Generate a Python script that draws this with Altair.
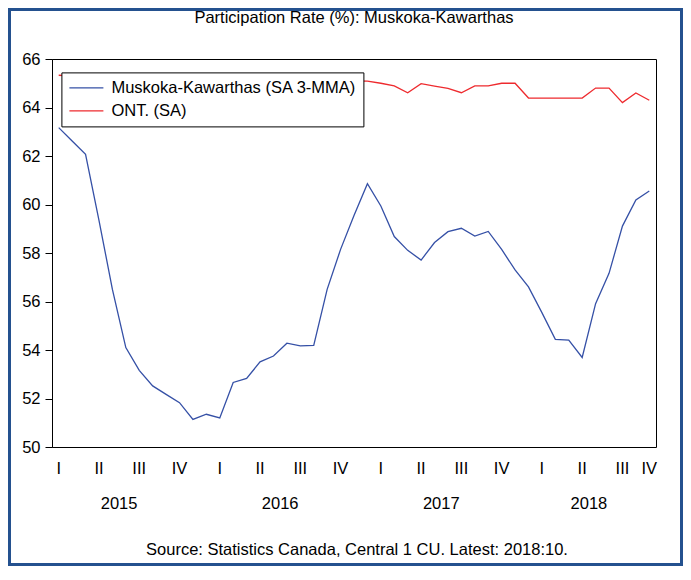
import altair as alt
import pandas as pd

# ---------------- data ----------------
months = [p.strftime("%Y-%m") for p in pd.period_range("2015-02", "2018-10", freq="M")]

muskoka = [63.17, 62.62, 62.07, 59.35, 56.50, 54.10, 53.16, 52.52, 52.17, 51.83,
           51.14, 51.35, 51.20, 52.66, 52.83, 53.51, 53.75, 54.28, 54.17, 54.19,
           56.50, 58.15, 59.55, 60.86, 59.94, 58.68, 58.11, 57.71, 58.43, 58.88,
           59.02, 58.70, 58.89, 58.15, 57.30, 56.60, 55.54, 54.44, 54.41, 53.69,
           55.91, 57.16, 59.11, 60.19, 60.56]

ontario = [65.33, 65.30, 65.20, 65.30, 65.10, 65.20, 65.30, 65.20, 65.10, 65.20,
           65.10, 65.00, 65.10, 65.00, 65.00, 65.10, 65.20, 65.10, 65.00, 65.00,
           64.90, 65.00, 65.10, 65.09, 65.00, 64.89, 64.61, 64.98, 64.88, 64.79,
           64.61, 64.89, 64.89, 65.00, 65.00, 64.39, 64.39, 64.39, 64.39, 64.39,
           64.80, 64.80, 64.20, 64.60, 64.30]

series_names = ["Muskoka-Kawarthas (SA 3-MMA)", "ONT. (SA)"]
quarter_names = ["I", "II", "III", "IV"]
years = [2015, 2016, 2017, 2018]

title_text = "Participation Rate (%): Muskoka-Kawarthas"
source_text = "Source: Statistics Canada, Central 1 CU. Latest: 2018:10."

# ---------------- tables ----------------
n = len(months)
rows = []
for name, vals in zip(series_names, [muskoka, ontario]):
    for k, (m, v) in enumerate(zip(months, vals)):
        rows.append({"series": name, "month": m, "pos": k + 0.5, "value": v})
df = pd.DataFrame(rows)

# month boundaries: 0 = start of first month (Feb 2015); Jan 2015 starts at -1
first_year, first_month = 2015, 2
def boundary(y, m):
    return (y - first_year) * 12 + (m - first_month)

qrows = []
for y in years:
    for qi, q in enumerate(quarter_names):
        s = boundary(y, 1 + 3 * qi)
        e = s + 3
        if e <= 0 or s >= n:
            continue
        qrows.append({"label": q, "pos": (max(s, -1) + min(e, n)) / 2})
qdf = pd.DataFrame(qrows)

yrows = []
for y in years:
    s = boundary(y, 1)
    e = s + 12
    yrows.append({"label": str(y), "pos": (s + min(e, n)) / 2})
ydf = pd.DataFrame(yrows)

# ---------------- style ----------------
FONT = "Liberation Sans"
FS = 16.5
BLUE = "#3550A6"
RED = "#EE2A2E"
FRAME = "#24518F"
W, H = 604, 388
PAD = {"left": 44, "top": 51, "right": 27, "bottom": 119}

x_scale = alt.Scale(domain=[0, n], nice=False, zero=False)
y_scale = alt.Scale(domain=[50, 66], nice=False, zero=False)

frame = alt.Chart(pd.DataFrame({"a": [0]})).mark_rect(
    fillOpacity=0, stroke=FRAME, strokeWidth=3
).encode(
    x=alt.value(-PAD["left"] + 1.5), x2=alt.value(W + PAD["right"] - 1.5),
    y=alt.value(-PAD["top"] + 1.5), y2=alt.value(H + PAD["bottom"] - 1.5),
)

lines = alt.Chart(df).mark_line(strokeWidth=1.3).encode(
    x=alt.X("pos:Q", scale=x_scale, axis=alt.Axis(
        values=list(range(n + 1)), labels=False, title=None, grid=False,
        tickSize={"condition": {"test": "datum.value % 3 == 2", "value": 8}, "value": 4},
        tickColor="black", domainColor="black", tickWidth=1, domainWidth=1)),
    y=alt.Y("value:Q", scale=y_scale, axis=alt.Axis(
        values=list(range(50, 67, 2)), title=None, grid=False, tickSize=7,
        labelPadding=5, labelFontSize=FS, labelFont=FONT, labelColor="black",
        tickColor="black", domainColor="black")),
    color=alt.Color("series:N", scale=alt.Scale(domain=series_names, range=[BLUE, RED]),
                    legend=alt.Legend(
                        title=None, orient="none", legendX=9.4, legendY=13.4,
                        direction="vertical", symbolType="stroke", symbolSize=1156,
                        symbolStrokeWidth=1.3, labelFontSize=FS, labelFont=FONT,
                        labelColor="black", labelLimit=500, labelOffset=7, padding=7,
                        clipHeight=17, rowPadding=6,
                        strokeColor="black", fillColor="white",
                        cornerRadius=0)),
    detail="series:N",
)

qlabels = alt.Chart(qdf).mark_text(font=FONT, fontSize=FS, color="black",
                                   baseline="middle", align="center").encode(
    x=alt.X("pos:Q", scale=x_scale, axis=None),
    y=alt.value(409.7),
    text="label:N",
)

ylabels = alt.Chart(ydf).mark_text(font=FONT, fontSize=FS, color="black",
                                   baseline="middle", align="center").encode(
    x=alt.X("pos:Q", scale=x_scale, axis=None),
    y=alt.value(445),
    text="label:N",
)

source = alt.Chart(pd.DataFrame({"t": [source_text]})).mark_text(
    font=FONT, fontSize=FS, color="black", baseline="middle", align="center"
).encode(x=alt.value(W / 2 + 3), y=alt.value(490.7), text="t:N")

title = alt.Chart(pd.DataFrame({"t": [title_text]})).mark_text(
    font=FONT, fontSize=FS, color="black", baseline="middle", align="center"
).encode(x=alt.value(W / 2), y=alt.value(-41.3), text="t:N")

chart = alt.layer(frame, lines, qlabels, ylabels, source, title).properties(
    width=W, height=H,
    autosize=alt.AutoSizeParams(type="none"),
    padding=PAD,
    background="white",
).configure_view(stroke="black", strokeWidth=1)

chart.save("out.html", embed_options={"renderer": "svg", "actions": False})
